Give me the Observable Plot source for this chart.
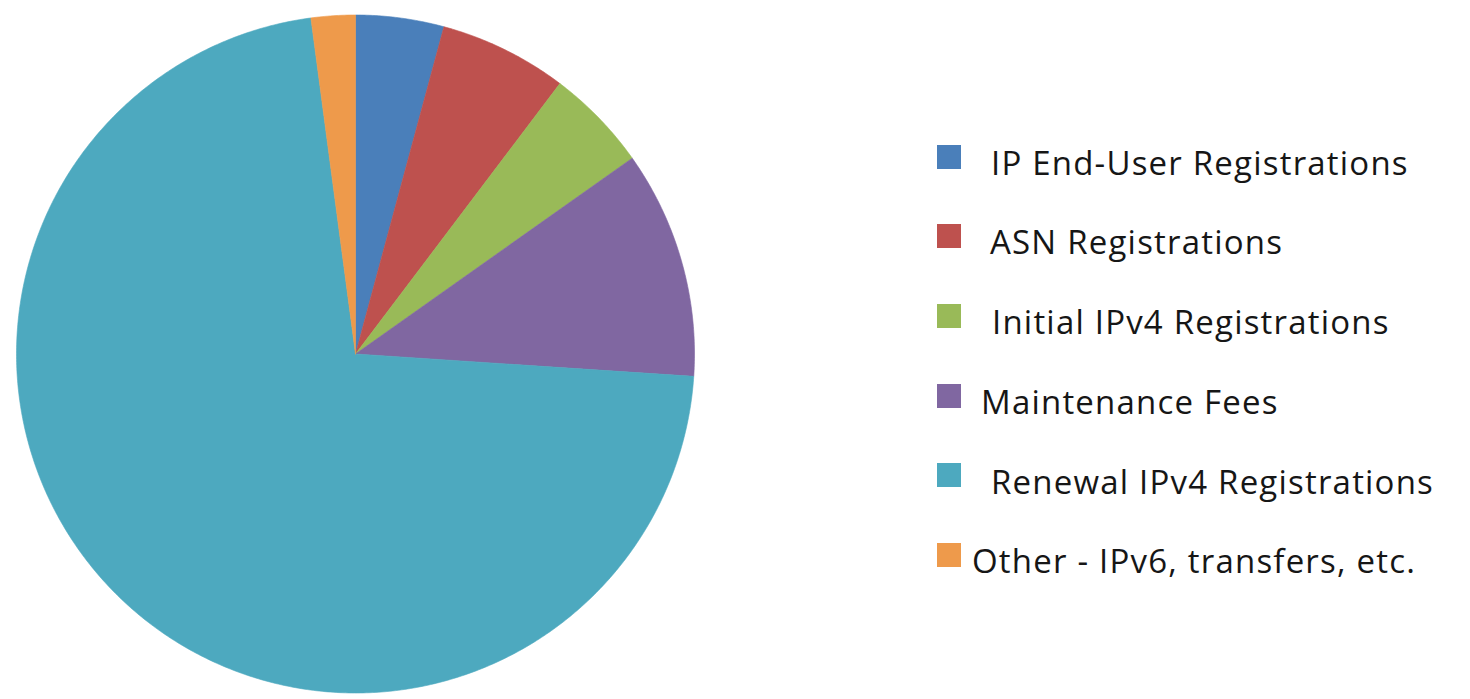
<!DOCTYPE html>
<html><head><meta charset="utf-8">
<script src="https://cdn.jsdelivr.net/npm/d3@7"></script>
<script src="https://cdn.jsdelivr.net/npm/@observablehq/plot@0.6"></script>
<style>
body{margin:0;background:#fff;}
#wrap{position:relative;width:1470px;height:699px;overflow:hidden;}
#legend{position:absolute;left:0;top:0;width:1470px;height:699px;pointer-events:none;font-family:"Open Sans",sans-serif;font-size:33px;line-height:33px;letter-spacing:1.2px;color:#161616;}
.sw{position:absolute;width:24px;height:24px;}
.tx{position:absolute;white-space:nowrap;}
</style></head><body><div id="wrap"></div>
<script>
const categories = ["IP End-User Registrations","ASN Registrations","Initial IPv4 Registrations","Maintenance Fees","Renewal IPv4 Registrations","Other - IPv6, transfers, etc."];
const values = [4.2, 6.1, 4.9, 10.85, 71.85, 2.1];
const colors = ["#4A7FBA","#BE514E","#99BA58","#8067A1","#4DA9BF","#EE9A4B"];
const labelIndent = [30, 29, 31, 20, 30, 11];

const data = categories.map((c, i) => ({category: c, value: values[i]}));
const arcs = d3.pie().sort(null).value(d => d.value)(data);
const pts = [];
for (const a of arcs) {
  const k = a.data.category;
  pts.push({category: k, x: 0, y: 0});
  const n = Math.max(2, Math.ceil((a.endAngle - a.startAngle) / (Math.PI / 360)));
  for (let j = 0; j <= n; j++) {
    const t = a.startAngle + (a.endAngle - a.startAngle) * j / n;
    pts.push({category: k, x: Math.sin(t), y: Math.cos(t)});
  }
  pts.push({category: k, x: 0, y: 0});
}

const cx = 355, cy = 353.5, r = 339;
const chart = Plot.plot({
  width: 1470, height: 699,
  margin: 0,
  x: {domain: [-1, 1], range: [cx - r, cx + r], axis: null},
  y: {domain: [-1, 1], range: [cy + r, cy - r], axis: null},
  color: {domain: categories, range: colors},
  marks: [
    Plot.line(pts, {x: "x", y: "y", z: "category", fill: "category", stroke: "category", strokeWidth: 0.6, curve: "linear"})
  ]
});
const wrap = document.getElementById("wrap");
wrap.appendChild(chart);

const legend = document.createElement("div");
legend.id = "legend";
const top0 = 156.5, step = 79.7, swX = 937;
categories.forEach((c, i) => {
  const yc = top0 + i * step;
  const sw = document.createElement("div");
  sw.className = "sw";
  sw.style.left = swX + "px";
  sw.style.top = (yc - 12) + "px";
  sw.style.background = colors[i];
  const tx = document.createElement("div");
  tx.className = "tx";
  tx.textContent = c;
  tx.style.left = (swX + 24 + labelIndent[i]) + "px";
  tx.style.top = (yc - 10.8) + "px";
  legend.appendChild(sw);
  legend.appendChild(tx);
});
wrap.appendChild(legend);
</script></body></html>
